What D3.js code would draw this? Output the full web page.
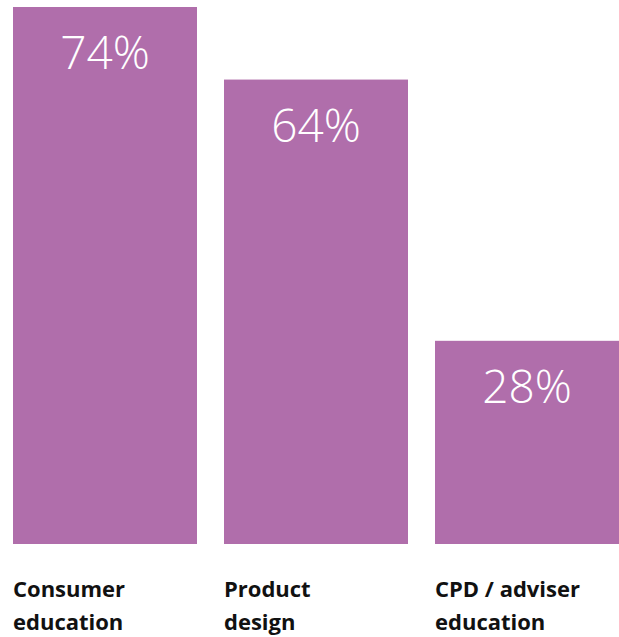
<!DOCTYPE html>
<html>
<head>
<meta charset="utf-8">
<script src="https://cdn.jsdelivr.net/npm/d3@7"></script>
<style>
  html, body { margin: 0; padding: 0; background: #ffffff; }
</style>
</head>
<body>
<div id="chart"></div>
<script>
// data
const categories = [["Consumer", "education"], ["Product", "design"], ["CPD / adviser", "education"]];
const values = [74, 64, 28];

const width = 619;
const height = 637;
const barColor = "#b06eab";

const svg = d3.select("#chart")
  .append("svg")
  .attr("width", width)
  .attr("height", height);

// scales
const x = d3.scaleBand()
  .domain(d3.range(values.length))
  .range([13, 619])
  .paddingInner(0.128)
  .paddingOuter(0);

const y = d3.scaleLinear()
  .domain([0, d3.max(values)])
  .range([544, 7]);

// bars
svg.selectAll("rect.bar")
  .data(values)
  .enter()
  .append("rect")
  .attr("class", "bar")
  .attr("x", (d, i) => x(i))
  .attr("y", d => y(d))
  .attr("width", x.bandwidth())
  .attr("height", d => y(0) - y(d))
  .attr("fill", barColor);

// value labels
svg.selectAll("text.value")
  .data(values)
  .enter()
  .append("text")
  .attr("class", "value")
  .attr("x", (d, i) => x(i) + x.bandwidth() / 2)
  .attr("y", d => y(d) + 62)
  .attr("text-anchor", "middle")
  .style("font-family", "'Open Sans', 'Noto Sans', sans-serif")
  .style("font-weight", 300)
  .style("font-size", "46px")
  .style("fill", "#ffffff")
  .text(d => d + "%");

// category labels
const cat = svg.selectAll("text.cat")
  .data(categories)
  .enter()
  .append("text")
  .attr("class", "cat")
  .attr("x", (d, i) => x(i))
  .attr("y", 597)
  .style("font-family", "'Open Sans', 'Noto Sans', sans-serif")
  .style("font-weight", 700)
  .style("font-size", "22px")
  .style("fill", "#111111");

cat.selectAll("tspan")
  .data(d => d)
  .enter()
  .append("tspan")
  .attr("x", function () { return d3.select(this.parentNode).attr("x"); })
  .attr("dy", (d, i) => i === 0 ? 0 : 33)
  .text(d => d);
</script>
</body>
</html>
